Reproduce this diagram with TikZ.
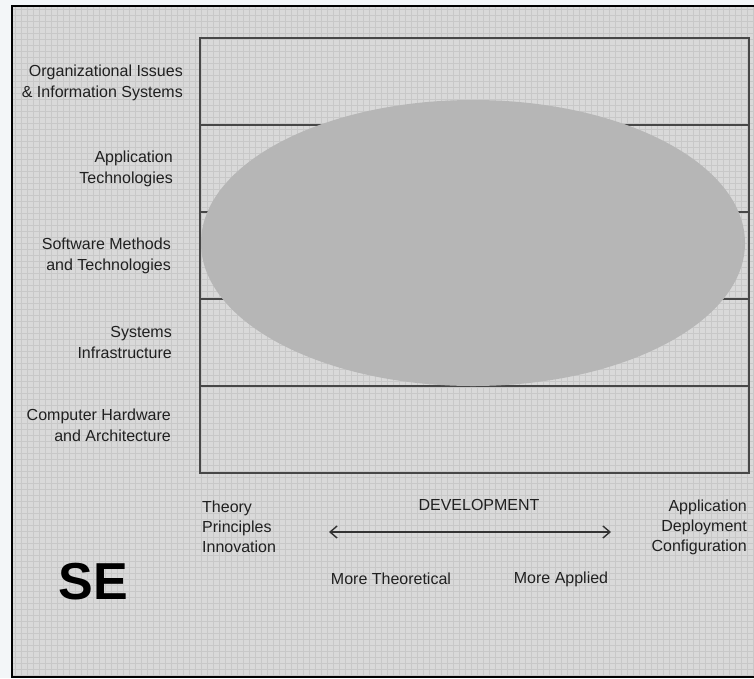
\documentclass[tikz,border=0pt]{standalone}
\usepackage{fontspec}
\setmainfont{Liberation Sans}
\usetikzlibrary{arrows.meta}

\definecolor{paper}{HTML}{D9D9D9}
\definecolor{gridline}{HTML}{C8C8C8}
\definecolor{blob}{HTML}{B6B6B6}
\definecolor{ink}{HTML}{202020}
\definecolor{margin}{HTML}{F3F6F8}

\tikzset{
  lbl/.style={align=right,anchor=east,inner sep=0pt,text=ink,
    font=\fontsize{16}{21}\selectfont},
  lbll/.style={lbl,align=left,anchor=west,font=\fontsize{16}{20}\selectfont},
  lblr/.style={lbl,font=\fontsize{16}{20}\selectfont},
  axis/.style={inner sep=0pt,text=ink,font=\fontsize{16}{20}\selectfont},
  boxline/.style={draw=black!72,line width=1.8pt},
  devarrow/.style={{Straight Barb[length=7pt,width=12pt]}-{Straight Barb[length=7pt,width=12pt]},
    line width=1.4pt,draw=black!80}
}

\begin{document}
\begin{tikzpicture}[x=1pt,y=-1pt]
\useasboundingbox (0,0) rectangle (754,678);

% paper and grid
\fill[margin] (0,0) rectangle (754,678);
\fill[paper] (12,6) rectangle (758,678);
\foreach \gx in {15,21,...,753} \draw[gridline,line width=0.9pt] (\gx,6) -- (\gx,678);
\foreach \gy in {9,15,...,675} \draw[gridline,line width=0.9pt] (12,\gy) -- (758,\gy);
\draw[black,line width=2.6pt] (12,6) rectangle (758,677);

% layers
\draw[boxline] (200,38) rectangle (749,473);
\draw[boxline] (200,125) -- (749,125);
\draw[boxline] (200,212) -- (749,212);
\draw[boxline] (200,299) -- (749,299);
\draw[boxline] (200,386) -- (749,386);
\fill[blob] (473,243) ellipse [x radius=272, y radius=143];

\node[lbl] (org) at (183,83) {Organizational Issues\\\& Information Systems};
\node[lbl] (app) at (173,169) {Application\\Technologies};
\node[lbl] (swm) at (171,256) {Software Methods\\and Technologies};
\node[lbl] (sys) at (172,342) {Systems\\Infrastructure};
\node[lbl] (chw) at (171,425) {Computer Hardware\\and Architecture};

% development axis
\node[lbll] (thy) at (202,527) {Theory\\Principles\\Innovation};
\node[axis] (dev) at (479,505) {DEVELOPMENT};
\coordinate (lft) at (329,532);
\coordinate (rgt) at (611,532);
\draw[devarrow] (lft) -- (rgt);
\node[axis] (mth) at (391,579) {More Theoretical};
\node[axis] (map) at (561,579) {More Applied};
\node[lblr] (adc) at (747,527) {Application\\Deployment\\Configuration};

\node[inner sep=0pt,text=black,font=\fontsize{52}{52}\selectfont\bfseries] (se) at (93,582) {SE};
\end{tikzpicture}
\end{document}
